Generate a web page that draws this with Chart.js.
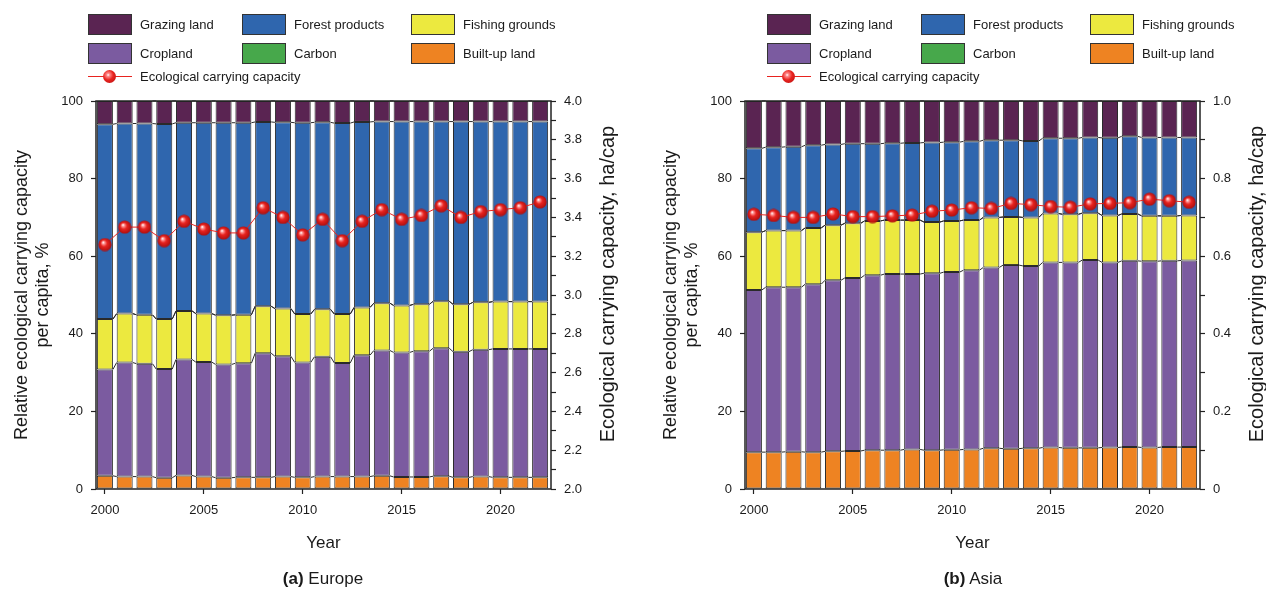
<!DOCTYPE html>
<html>
<head>
<meta charset="utf-8">
<script src="https://cdn.jsdelivr.net/npm/chart.js@4.4.1/dist/chart.umd.min.js"></script>
<style>
  html, body { margin: 0; padding: 0; background: #fff; }
  body { width: 1266px; height: 590px; position: relative; overflow: hidden;
         font-family: "Liberation Sans", Arial, Helvetica, sans-serif; color: #1a1a1a; }
  .cv { position: absolute; top: 0; width: 633px; height: 590px; }
  .leg { position: absolute; font-size: 13px; line-height: 21px; white-space: nowrap; }
  .sw { position: absolute; width: 42px; height: 19px; border: 1px solid #333; }
  .lineicon { position: absolute; width: 44px; height: 13px; }
  .lineicon .ln { position: absolute; left: 0; right: 0; top: 6px; height: 1px; background: #e8231f; }
  .lineicon .dot { position: absolute; left: 15px; top: 0; width: 13px; height: 13px; border-radius: 50%;
     background: radial-gradient(circle at 40% 38%, #ffffff 0%, #ff8a8a 14%, #e8231f 45%, #b30f0f 100%); }
  .cap { position: absolute; top: 568px; font-size: 17px; line-height: 22px; width: 300px; text-align: center; }
</style>
</head>
<body>
<canvas id="eu" class="cv" style="left:0px" width="633" height="590"></canvas>
<canvas id="as" class="cv" style="left:633px" width="633" height="590"></canvas>
<div id="legends"></div>
<div class="cap" style="left:173px"><b>(a)</b> Europe</div>
<div class="cap" style="left:823px"><b>(b)</b> Asia</div>
<script>
// ---------- DATA ----------
const years = [2000,2001,2002,2003,2004,2005,2006,2007,2008,2009,2010,2011,2012,2013,2014,2015,2016,2017,2018,2019,2020,2021,2022];
const xTicks = [2000,2005,2010,2015,2020];
const lineName = 'Ecological carrying capacity';

// Europe: share of each land type in per-capita carrying capacity, %
const europeBuiltUp  = [3.4,3.2,3.2,2.9,3.5,3.2,2.9,3.0,3.0,3.2,3.0,3.2,3.2,3.2,3.4,3.1,3.1,3.3,3.0,3.2,3.0,3.0,3.0];
const europeCropland = [27.4,29.4,29.1,28.0,29.9,29.5,29.2,29.4,32.0,31.0,29.6,30.9,29.3,31.3,32.3,32.1,32.4,33.0,32.4,32.7,33.1,33.1,33.1];
const europeFishing  = [13.0,12.6,12.6,12.9,12.5,12.5,12.7,12.5,12.1,12.3,12.5,12.2,12.6,12.3,12.2,12.1,12.1,12.1,12.2,12.2,12.2,12.2,12.2];
const europeCarbon   = [0,0,0,0,0,0,0,0,0,0,0,0,0,0,0,0,0,0,0,0,0,0,0];
const europeForest   = [50.2,49.0,49.3,50.3,48.5,49.2,49.6,49.5,47.5,48.0,49.3,48.2,49.2,47.8,46.8,47.4,47.1,46.3,47.1,46.6,46.4,46.4,46.4];
const europeGrazing  = [6.0,5.8,5.8,5.9,5.6,5.6,5.6,5.6,5.4,5.5,5.6,5.5,5.7,5.4,5.3,5.3,5.3,5.3,5.3,5.3,5.3,5.3,5.3];
const europeCapacity = [3.26,3.35,3.35,3.28,3.38,3.34,3.32,3.32,3.45,3.40,3.31,3.39,3.28,3.38,3.44,3.39,3.41,3.46,3.40,3.43,3.44,3.45,3.48];

// Asia
const asiaBuiltUp  = [9.5,9.5,9.6,9.5,9.7,9.8,10.0,10.0,10.2,10.0,10.1,10.2,10.5,10.4,10.5,10.7,10.6,10.6,10.7,10.8,10.7,10.8,10.8];
const asiaCropland = [41.8,42.5,42.4,43.3,44.1,44.6,45.1,45.4,45.2,45.6,45.8,46.2,46.6,47.3,47.0,47.7,47.8,48.4,47.7,48.0,48.0,48.0,48.1];
const asiaFishing  = [14.9,14.6,14.6,14.5,14.2,14.1,14.0,13.9,13.9,13.2,13.2,12.9,12.9,12.4,12.5,12.6,12.4,12.1,12.1,12.1,11.7,11.6,11.6];
const asiaCarbon   = [0,0,0,0,0,0,0,0,0,0,0,0,0,0,0,0,0,0,0,0,0,0,0];
const asiaForest   = [21.6,21.5,21.6,21.3,20.8,20.5,19.9,19.8,19.9,20.5,20.3,20.3,19.9,19.8,19.7,19.4,19.6,19.5,20.0,20.0,20.2,20.2,20.1];
const asiaGrazing  = [12.2,11.9,11.8,11.4,11.2,11.0,11.0,10.9,10.8,10.7,10.6,10.4,10.1,10.1,10.3,9.6,9.6,9.4,9.5,9.1,9.4,9.4,9.4];
const asiaCapacity = [0.708,0.705,0.700,0.700,0.709,0.702,0.702,0.704,0.706,0.716,0.719,0.725,0.723,0.736,0.733,0.728,0.726,0.735,0.736,0.738,0.747,0.743,0.739];

const europeRightTicks = [2.0,2.1,2.2,2.3,2.4,2.5,2.6,2.7,2.8,2.9,3.0,3.1,3.2,3.3,3.4,3.5,3.6,3.7,3.8,3.9,4.0];
const asiaRightTicks = [0,0.1,0.2,0.3,0.4,0.5,0.6,0.7,0.8,0.9,1.0];

// ---------- STYLE ----------
const colors = {
  'Grazing land': '#5a2452',
  'Forest products': '#2f66ae',
  'Fishing grounds': '#ece93f',
  'Cropland': '#7b5ba0',
  'Carbon': '#47a84b',
  'Built-up land': '#ee8322'
};
const FONT = '"Liberation Sans", Arial, Helvetica, sans-serif';
const TXT = '#1a1a1a';

function sphere() {
  const c = document.createElement('canvas');
  c.width = 14; c.height = 14;
  const g = c.getContext('2d');
  const grd = g.createRadialGradient(5.2, 4.8, 0.3, 7, 7, 7);
  grd.addColorStop(0, '#ffffff');
  grd.addColorStop(0.15, '#ff9a9a');
  grd.addColorStop(0.45, '#e8231f');
  grd.addColorStop(1, '#a80d0d');
  g.fillStyle = grd;
  g.beginPath(); g.arc(7, 7, 6.6, 0, Math.PI * 2); g.fill();
  return c;
}
const dotImg = sphere();

const pts = arr => arr.map((v, i) => ({ x: years[i], y: v }));

// connectors between adjacent bar tops + frame + right title
const framePlugin = {
  id: 'frameAndLinks',
  afterDatasetDraw(chart, args) {
    const meta = args.meta;
    if (meta.type !== 'bar') return;
    const ctx = chart.ctx;
    ctx.save();
    ctx.strokeStyle = '#2a2a2a';
    ctx.lineWidth = 1;
    const els = meta.data;
    for (let i = 0; i < els.length - 1; i++) {
      const a = els[i], b = els[i + 1];
      ctx.beginPath();
      ctx.moveTo(a.x + a.width / 2, a.y);
      ctx.lineTo(b.x - b.width / 2, b.y);
      ctx.stroke();
    }
    ctx.restore();
  },
  afterDraw(chart, args, opts) {
    const { ctx, chartArea: ca } = chart;
    ctx.save();
    ctx.strokeStyle = '#222';
    ctx.lineWidth = 1.5;
    ctx.strokeRect(ca.left, ca.top, ca.right - ca.left, ca.bottom - ca.top);
    ctx.fillStyle = TXT;
    ctx.font = '20px ' + FONT;
    ctx.textAlign = 'center';
    ctx.textBaseline = 'middle';
    ctx.translate(ca.right + 57, (ca.top + ca.bottom) / 2 - 11);
    ctx.rotate(-Math.PI / 2);
    ctx.fillText(opts.rightTitle, 0, 0);
    ctx.restore();
  }
};

function makeChart(id, d) {
  const barSets = [
    ['Built-up land', d.built],
    ['Cropland', d.crop],
    ['Fishing grounds', d.fish],
    ['Carbon', d.carbon],
    ['Forest products', d.forest],
    ['Grazing land', d.grazing]
  ].map(([name, arr]) => ({
    type: 'bar', label: name, data: pts(arr), yAxisID: 'y',
    backgroundColor: colors[name], borderColor: '#2a2a2a', borderWidth: 1,
    borderSkipped: false, barPercentage: 0.81, categoryPercentage: 1, order: 2
  }));
  const lineSet = {
    type: 'line', label: lineName, data: pts(d.cap), yAxisID: 'y2',
    borderColor: '#e8231f', borderWidth: 1, pointStyle: dotImg, pointRadius: 7,
    pointHoverRadius: 7, tension: 0, fill: false, order: 0
  };
  const tickStyle = { color: TXT, font: { family: FONT, size: 13 } };
  new Chart(document.getElementById(id), {
    data: { datasets: [...barSets, lineSet] },
    plugins: [framePlugin],
    options: {
      responsive: false, animation: false,
      layout: { padding: { top: 101, left: 0, right: 0, bottom: 0 } },
      plugins: { legend: { display: false }, tooltip: { enabled: false },
                 frameAndLinks: { rightTitle: 'Ecological carrying capacity, ha/cap' } },
      scales: {
        x: {
          type: 'linear', min: 1999.55, max: 2022.55, stacked: true, offset: false,
          afterFit: s => { s.height = 101; },
          afterBuildTicks: s => { s.ticks = xTicks.map(v => ({ value: v })); },
          ticks: { ...tickStyle, padding: 9, maxRotation: 0, callback: v => String(v) },
          grid: { display: true, offset: false, drawOnChartArea: false, drawTicks: true, tickLength: 5, tickColor: '#222', tickWidth: 1.2 },
          border: { display: false },
          title: { display: true, text: 'Year', color: TXT, font: { family: FONT, size: 17 }, padding: { top: 0, bottom: 36 } }
        },
        y: {
          position: 'left', stacked: true, min: 0, max: 100,
          afterFit: s => { s.width = d.leftWidth; },
          ticks: { ...tickStyle, stepSize: 20, padding: 8 },
          grid: { display: true, drawOnChartArea: false, drawTicks: true, tickLength: 5, tickColor: '#222', tickWidth: 1.2 },
          border: { display: false },
          title: { display: true, text: ['Relative ecological carrying capacity', 'per capita, %'], color: TXT,
                   font: { family: FONT, size: 18, lineHeight: 1.2 }, padding: { top: d.titlePad, bottom: 0 } }
        },
        y2: {
          position: 'right', min: d.y2min, max: d.y2max,
          afterFit: s => { s.width = d.rightWidth; },
          afterBuildTicks: s => { s.ticks = d.y2ticks.map(v => ({ value: v })); },
          ticks: { ...tickStyle, padding: 8, callback: d.y2label },
          grid: { display: true, drawOnChartArea: false, drawTicks: true, tickLength: 5, tickColor: '#222', tickWidth: 1.2 },
          border: { display: false }
        }
      }
    }
  });
}

makeChart('eu', {
  built: europeBuiltUp, crop: europeCropland, fish: europeFishing, carbon: europeCarbon,
  forest: europeForest, grazing: europeGrazing, cap: europeCapacity,
  leftWidth: 96, rightWidth: 82, titlePad: 11,
  y2min: 2, y2max: 4, y2ticks: europeRightTicks,
  y2label: v => (Math.round(v * 10) % 2 === 0 ? v.toFixed(1) : '')
});
makeChart('as', {
  built: asiaBuiltUp, crop: asiaCropland, fish: asiaFishing, carbon: asiaCarbon,
  forest: asiaForest, grazing: asiaGrazing, cap: asiaCapacity,
  leftWidth: 112, rightWidth: 66, titlePad: 27,
  y2min: 0, y2max: 1, y2ticks: asiaRightTicks,
  y2label: v => (Math.round(v * 10) % 2 === 0 ? (v === 0 ? '0' : v.toFixed(1)) : '')
});

// ---------- HTML legends ----------
function buildLegend(left) {
  const cont = document.getElementById('legends');
  const colX = [0, 154, 323];
  const rowY = [14, 43];
  const grid = [['Grazing land','Forest products','Fishing grounds'], ['Cropland','Carbon','Built-up land']];
  grid.forEach((row, r) => row.forEach((name, c) => {
    const sw = document.createElement('div');
    sw.className = 'sw';
    sw.style.left = (left + colX[c]) + 'px';
    sw.style.top = rowY[r] + 'px';
    sw.style.background = colors[name];
    cont.appendChild(sw);
    const t = document.createElement('div');
    t.className = 'leg';
    t.style.left = (left + colX[c] + 52) + 'px';
    t.style.top = rowY[r] + 'px';
    t.textContent = name;
    cont.appendChild(t);
  }));
  const li = document.createElement('div');
  li.className = 'lineicon';
  li.style.left = left + 'px';
  li.style.top = '70px';
  li.innerHTML = '<div class="ln"></div><div class="dot"></div>';
  cont.appendChild(li);
  const t = document.createElement('div');
  t.className = 'leg';
  t.style.left = (left + 52) + 'px';
  t.style.top = '66px';
  t.textContent = lineName;
  cont.appendChild(t);
}
buildLegend(88);
buildLegend(767);
</script>
</body>
</html>
